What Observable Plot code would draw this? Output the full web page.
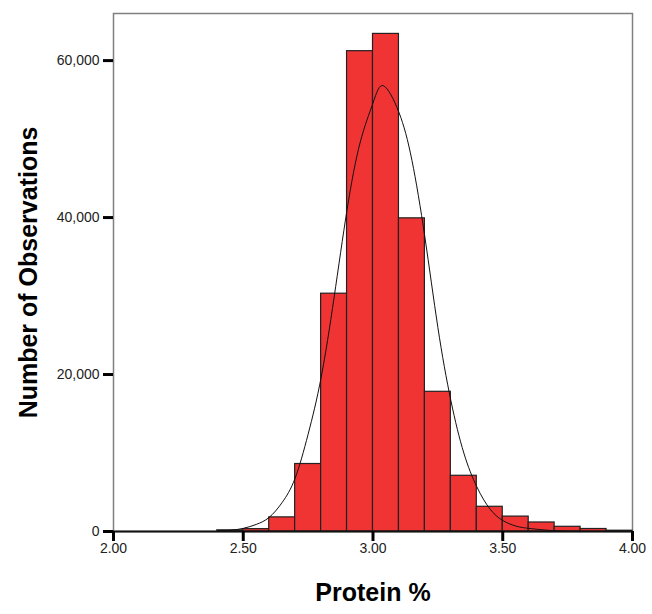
<!DOCTYPE html>
<html>
<head>
<meta charset="utf-8">
<script src="https://cdn.jsdelivr.net/npm/d3@7"></script>
<script src="https://cdn.jsdelivr.net/npm/@observablehq/plot@0.6"></script>
<style>
  html, body { margin: 0; padding: 0; background: #fff; }
  #chart svg { display: block; }
</style>
</head>
<body>
<div id="chart"></div>
<script>
// Histogram bins (protein %), lower and upper edges
const binLo = [2.4, 2.5, 2.6, 2.7, 2.8, 2.9, 3.0, 3.1, 3.2, 3.3, 3.4, 3.5, 3.6, 3.7, 3.8, 3.9];
const binHi = [2.5, 2.6, 2.7, 2.8, 2.9, 3.0, 3.1, 3.2, 3.3, 3.4, 3.5, 3.6, 3.7, 3.8, 3.9, 4.0];
const counts = [150, 300, 1800, 8600, 30300, 61200, 63400, 39900, 17800, 7100, 3150, 1900, 1150, 600, 320, 100];

// Fitted normal curve
const curveX = [2.40, 2.45, 2.50, 2.55, 2.60, 2.65, 2.70, 2.75, 2.80, 2.85, 2.90, 2.95, 3.00, 3.04, 3.10, 3.15, 3.20, 3.25, 3.30, 3.35, 3.40, 3.45, 3.50, 3.55, 3.60, 3.70, 3.80];
const curveY = [50, 150, 400, 900, 1800, 3700, 6800, 12400, 19600, 29800, 41000, 49500, 54600, 56800, 53400, 47300, 37500, 26000, 16700, 10000, 5700, 2900, 1400, 700, 400, 100, 20];

const xTicks = [2.0, 2.5, 3.0, 3.5, 4.0];
const yTicks = [0, 20000, 40000, 60000];
const xTitle = "Protein %";
const yTitle = "Number of Observations";

const bars = binLo.map((lo, i) => ({lo, hi: binHi[i], n: counts[i]}));
const curve = curveX.map((x, i) => ({x, y: curveY[i]}));

const chart = Plot.plot({
  width: 652,
  height: 614,
  marginLeft: 113,
  marginRight: 20,
  marginTop: 13,
  marginBottom: 83,
  style: {fontFamily: "'Liberation Sans', Arial, sans-serif", fontSize: "14px", background: "#fff", color: "#222"},
  x: {domain: [2, 4]},
  y: {domain: [0, 66000]},
  marks: [
    Plot.frame({stroke: "#808080", strokeWidth: 1.5}),
    Plot.rectY(bars, {x1: "lo", x2: "hi", y: "n", fill: "#f03434", stroke: "#222", strokeWidth: 1.2}),
    Plot.line(curve, {x: "x", y: "y", curve: "natural", stroke: "#111", strokeWidth: 1}),
    Plot.ruleY([0], {stroke: "#111", strokeWidth: 2}),
    // thick tick marks
    Plot.ruleX(xTicks, {y1: 0, y2: 0, insetBottom: -10, stroke: "#000", strokeWidth: 3}),
    Plot.ruleY(yTicks, {x1: 2, x2: 2, insetLeft: -10, stroke: "#000", strokeWidth: 3}),
    Plot.axisX({ticks: xTicks, tickFormat: d => d.toFixed(2), tickSize: 0, tickPadding: 12, fontSize: 14, fill: "#222", label: null}),
    Plot.axisY({ticks: yTicks, tickFormat: d3.format(","), tickSize: 0, tickPadding: 14, fontSize: 14, fill: "#222", label: null}),
    Plot.text([xTitle], {frameAnchor: "bottom", dy: 69, fontSize: 25, fontWeight: "bold", fill: "#000", textAnchor: "middle"}),
    Plot.text([yTitle], {frameAnchor: "left", dx: -85, rotate: -90, fontSize: 25, fontWeight: "bold", fill: "#000", textAnchor: "middle"})
  ]
});
document.getElementById("chart").appendChild(chart);
</script>
</body>
</html>
